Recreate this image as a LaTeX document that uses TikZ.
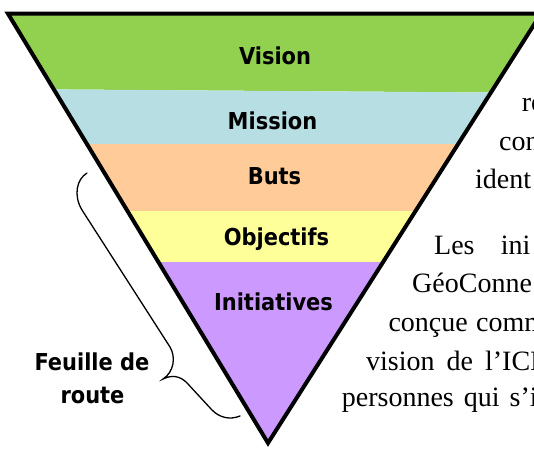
\documentclass[tikz,border=0pt]{standalone}
\usepackage{fontspec}
\setmainfont{Liberation Serif}
\newfontfamily\labfont{DejaVu Sans Condensed}
\definecolor{cvis}{HTML}{92D050}
\definecolor{cmis}{HTML}{B7DEE2}
\definecolor{cbut}{HTML}{FFCC99}
\definecolor{cobj}{HTML}{FFFF99}
\definecolor{cini}{HTML}{CC99FF}
\begin{document}
\begin{tikzpicture}[x=1pt,y=-1pt,
  lab/.style={font=\labfont\bfseries\fontsize{23.3}{28}\selectfont, anchor=base, inner sep=0pt},
  bg/.style={font=\fontsize{28}{32}\selectfont, anchor=base west, inner sep=0pt},
  tri/.style={draw=black, line width=4pt, line join=miter},
  bracestyle/.style={draw=black, line width=1.3pt, line cap=round}]
\clip (0,0) rectangle (534,448);
\fill[white] (0,0) rectangle (534,448);
\coordinate (tl) at (8,13.7);
\coordinate (tr) at (541,13.7);
\coordinate (ap) at (268,443);
\begin{scope}
  \clip (tl) -- (tr) -- (ap) -- cycle;
  \fill[cvis] (0,0) -- (560,0) -- (560,93) -- (0,89) -- cycle;
  \fill[cmis] (0,89) -- (560,93) -- (560,144) -- (0,144) -- cycle;
  \fill[cbut] (0,144) rectangle (560,211);
  \fill[cobj] (0,211) rectangle (560,262);
  \fill[cini] (0,262) rectangle (560,448);
\end{scope}
\draw[tri] (tl) -- (tr) -- (ap) -- cycle;

\node[lab] (vision) at (275,64) {Vision};
\node[lab] (mission) at (272.5,129) {Mission};
\node[lab] (buts) at (274.5,184) {Buts};
\node[lab] (objectifs) at (276.5,245) {Objectifs};
\node[lab] (initiatives) at (273.5,310) {Initiatives};

\node[lab] (feuille) at (92,370) {Feuille de};
\node[lab] (route) at (92.5,403) {route};

\coordinate (bs) at (87,173);
\coordinate (be) at (240,416);
\draw[bracestyle] (bs) .. controls (77,179) and (73,195) .. (82,210)
  -- (170,347) .. controls (176,357) and (174,372) .. (163,379)
  .. controls (171,375) and (180,375) .. (188,384)
  -- (212,410) .. controls (220,418) and (230,420) .. (be);

\node[bg] (t1) at (521.7,111.7) {re};
\node[bg] (t2) at (499,150.7) {con};
\node[bg] (t3) at (475,188) {ident};
\node[bg] (t4a) at (434,254.3) {Les};
\node[bg] (t4b) at (500.7,254.3) {ini};
\node[bg] (t5) at (412,292.5) {GéoConne};
\node[bg] (t6a) at (388.3,331.7) {conçue};
\node[bg] (t6b) at (476,331.7) {comm};
\node[bg] (t7) at (366,370) {vision\hspace{12pt}de\hspace{12pt}l’ICI};
\node[bg] (t8) at (341.7,406.7) {personnes\hspace{10pt}qui\hspace{10pt}s’i};
\end{tikzpicture}
\end{document}
